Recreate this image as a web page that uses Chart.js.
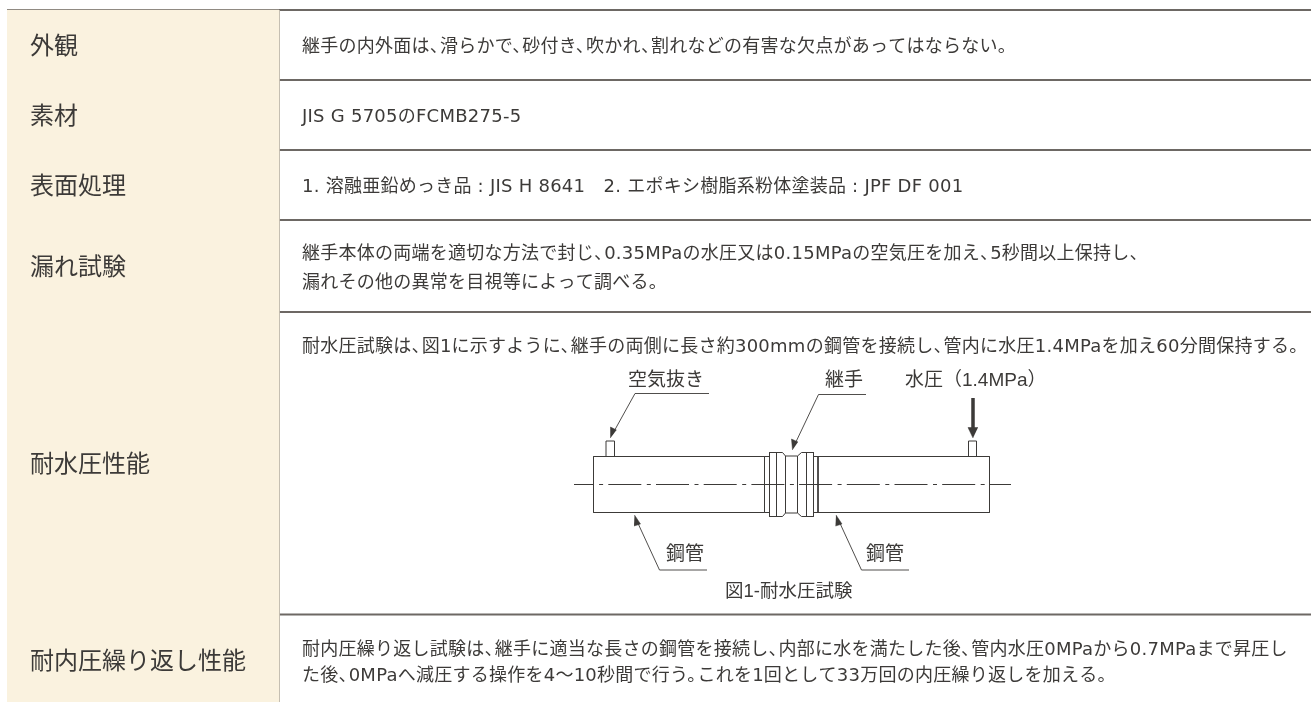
<!DOCTYPE html>
<html lang="ja">
<head>
<meta charset="utf-8">
<title>継手の品質規格</title>
<script src="https://cdn.jsdelivr.net/npm/chart.js@4"></script>
<style>
  html, body { margin: 0; padding: 0; background: #fff; }
  canvas { display: block; }
</style>
</head>
<body>
<canvas id="ctx" width="1311" height="702"></canvas>
<script>
"use strict";
// table content
const rowLabels = ["外観", "素材", "表面処理", "漏れ試験", "耐水圧性能", "耐内圧繰り返し性能"];
const labelY = [45, 115, 185, 266, 463, 660];
const rowLines = [10, 80, 150, 220, 312, 614.5];
const bodyLines = [
  "継手の内外面は、滑らかで、砂付き、吹かれ、割れなどの有害な欠点があってはならない。",
  "JIS G 5705のFCMB275-5",
  "1. 溶融亜鉛めっき品 : JIS H 8641　2. エポキシ樹脂系粉体塗装品 : JPF DF 001",
  "継手本体の両端を適切な方法で封じ、0.35MPaの水圧又は0.15MPaの空気圧を加え、5秒間以上保持し、",
  "漏れその他の異常を目視等によって調べる。",
  "耐水圧試験は、図1に示すように、継手の両側に長さ約300mmの鋼管を接続し、管内に水圧1.4MPaを加え60分間保持する。",
  "耐内圧繰り返し試験は、継手に適当な長さの鋼管を接続し、内部に水を満たした後、管内水圧0MPaから0.7MPaまで昇圧し",
  "た後、0MPaへ減圧する操作を4〜10秒間で行う。これを1回として33万回の内圧繰り返しを加える。"
];
const bodyY = [47, 117, 187, 254, 283, 347, 650, 676];

// figure 1 labels
const figLabels = ["空気抜き", "継手", "水圧（1.4MPa）", "鋼管", "鋼管", "図1-耐水圧試験"];
const figLabelX = [628, 825, 905, 666, 866, 725];
const figLabelY = [381, 381, 381, 554.5, 554.5, 592];
const figLabelSize = [19, 19, 19, 19, 19, 18.5];

// figure 1 outline, in page units
const pipeOutline = [[764.5, 456.5], [593.5, 456.5], [593.5, 512.5], [764.5, 512.5]];
const pipeOutlineRight = [[818, 456.5], [989.5, 456.5], [989.5, 512.5], [818, 512.5]];
const jointTop = [[764.5, 456.5], [769.5, 456.5], [769.5, 452.5], [782.5, 452.5], [785.5, 456], [797.5, 456], [801.5, 452.5], [813.5, 452.5], [813.5, 456.5], [818, 456.5]];
const jointBottom = [[764.5, 512.5], [769.5, 512.5], [769.5, 516.5], [782.5, 516.5], [785.5, 513], [797.5, 513], [801.5, 516.5], [813.5, 516.5], [813.5, 512.5], [818, 512.5]];
const jointVerticals = [764.5, 769.5, 776.5, 785.5, 797.5, 806.5, 813.5, 818];
const centerLine = [[574, 484.5], [1011, 484.5]];
const ventLeft = [[606, 456.5], [606, 441], [614.5, 441], [614.5, 456.5]];
const ventRight = [[968.5, 456.5], [968.5, 441], [976.5, 441], [976.5, 456.5]];
const leaderVent = [[709, 393.5], [635, 393.5], [612, 435]];
const leaderJoint = [[866, 394.5], [818.5, 394.5], [794, 446]];
const leaderPipeLeft = [[707, 570], [659.5, 570], [636, 519]];
const leaderPipeRight = [[909, 570], [861.5, 570], [838, 519]];
const headVent = [[610.5, 438], [610.5, 427], [616.5, 430]];
const headJoint = [[792.5, 450], [791.5, 439], [798, 442]];
const headPipeLeft = [[634.5, 515], [640.5, 524], [634, 526]];
const headPipeRight = [[836, 515], [842, 524], [835.5, 526]];
const pressureShaft = [[973, 398], [973, 429]];
const headPressure = [[973, 438], [968, 427.5], [978, 427.5]];

const ink = "#3c3a38";
const rule = "#6d6864";
const cream = "#faf2df";
const labelFont = '"Noto Sans CJK JP", sans-serif';
const bodyFont = '"DejaVu Sans", "Noto Sans CJK JP", sans-serif';
const figFont = '"Liberation Sans", "Noto Sans CJK JP", sans-serif';

function points(list) {
  return list.map(([x, y]) => ({ x: x, y: y }));
}
function stroke(list, width = 1, color = ink, extra = {}) {
  return Object.assign({
    data: points(list), showLine: true, borderColor: color, borderWidth: width,
    pointRadius: 0, tension: 0, fill: false
  }, extra);
}
function solid(list, color = ink) {
  return stroke(list, 0.5, color, { backgroundColor: color, fill: "shape" });
}

let datasets = [];
// left column fill
datasets.push(solid([[7, 10], [279, 10], [279, 702], [7, 702]], cream));
rowLines.forEach((y) => {
  datasets.push(stroke([[7, y], [1311, y]], 2, rule));
});
datasets.push(stroke([[279, 10], [279, 702]], 1.5, "#55514d"));

[pipeOutline, pipeOutlineRight, jointTop, jointBottom, ventLeft, ventRight].forEach((p) => datasets.push(stroke(p, 1)));
jointVerticals.forEach((x) => {
  let top = x > 769 && x < 814 ? (x > 785 && x < 798 ? 456 : 452.5) : 456.5;
  let bottom = x > 769 && x < 814 ? (x > 785 && x < 798 ? 513 : 516.5) : 512.5;
  datasets.push(stroke([[x, top], [x, bottom]], 1));
});
datasets.push(stroke(centerLine, 1, ink, { borderDash: [33, 5.5, 4, 5.2], borderDashOffset: 13.4 }));
[leaderVent, leaderJoint, leaderPipeLeft, leaderPipeRight].forEach((p) => datasets.push(stroke(p, 0.9)));
[headVent, headJoint, headPipeLeft, headPipeRight, headPressure].forEach((p) => datasets.push(solid(p)));
datasets.push(stroke(pressureShaft, 3.5));

// Japanese punctuation sits tight in the original, so close up its empty half
function drawTight(c, text, x, y, em) {
  let runs = text.match(/[^、。]*[、。]?/g).filter((r) => r.length > 0);
  runs.forEach((r) => {
    c.fillText(r, x, y);
    x += c.measureText(r).width;
    if (/[、。]$/.test(r)) {
      x -= em * 0.45;
    }
  });
}

const tableText = {
  id: "tableText",
  afterDatasetsDraw(chart) {
    let c = chart.ctx;
    let sx = chart.scales.x;
    let sy = chart.scales.y;
    c.save();
    c.fillStyle = ink;
    c.textBaseline = "middle";
    c.textAlign = "left";
    c.font = "24px " + labelFont;
    rowLabels.forEach((t, i) => {
      c.fillText(t, sx.getPixelForValue(30), sy.getPixelForValue(labelY[i]));
    });
    c.font = "18px " + bodyFont;
    c.letterSpacing = "0.25px";
    bodyLines.forEach((t, i) => {
      drawTight(c, t, sx.getPixelForValue(302), sy.getPixelForValue(bodyY[i]), 18);
    });
    c.letterSpacing = "0px";
    figLabels.forEach((t, i) => {
      c.font = figLabelSize[i] + "px " + figFont;
      c.fillText(t, sx.getPixelForValue(figLabelX[i]), sy.getPixelForValue(figLabelY[i]));
    });
    c.restore();
  }
};

new Chart(document.getElementById("ctx").getContext("2d"), {
  type: "scatter",
  data: { datasets: datasets },
  plugins: [tableText],
  options: {
    responsive: false,
    animation: false,
    layout: { padding: 0 },
    plugins: { legend: { display: false }, tooltip: { enabled: false } },
    scales: {
      x: { type: "linear", min: 0, max: 1311, display: false },
      y: { type: "linear", min: 0, max: 702, reverse: true, display: false }
    }
  }
});
</script>
</body>
</html>
